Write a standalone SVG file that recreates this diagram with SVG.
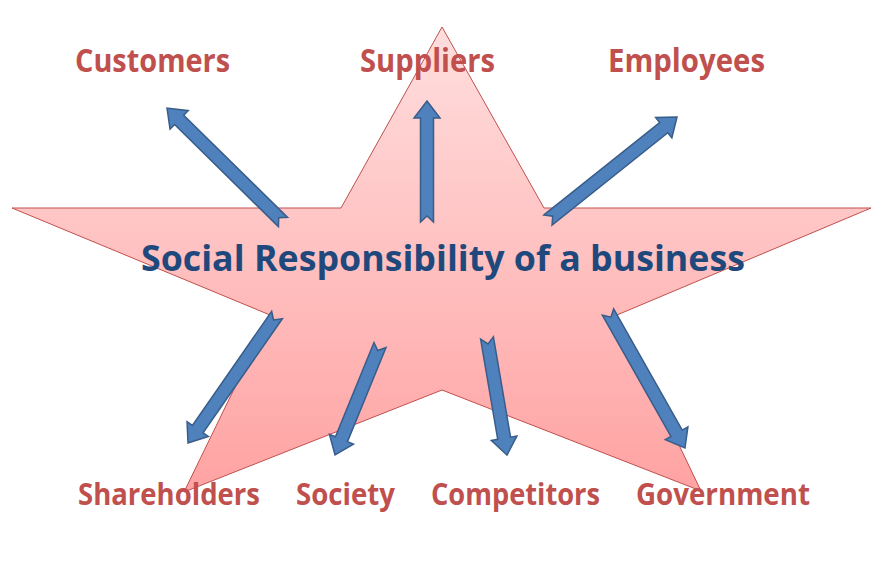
<svg xmlns="http://www.w3.org/2000/svg" width="883" height="563" viewBox="0 0 883 563">
  <defs>
    <linearGradient id="starGrad" gradientUnits="userSpaceOnUse" x1="0" y1="27" x2="0" y2="495">
      <stop offset="0" stop-color="#ffdede"/>
      <stop offset="1" stop-color="#ffa2a2"/>
    </linearGradient>
    <style>
      .label { font-family: "Open Sans", "Liberation Sans", sans-serif; font-weight: 700; fill: #c0504d; }
      .title { font-family: "Open Sans", "Liberation Sans", sans-serif; font-weight: 700; fill: #1f497d; }
      .arrow { fill: #4f81bd; stroke: #385d8a; stroke-width: 1.5; stroke-linejoin: miter; }
    </style>
  </defs>
  <rect width="883" height="563" fill="#ffffff"/>

  <g id="star">
    <polygon points="442,27 544,208 871,208 617,315 701,491 442,390 184,492 270,315 12,208 341,208" fill="url(#starGrad)" stroke="#c0504d" stroke-width="1"/>
    <text class="title" x="141" y="271" font-size="35" textLength="604" lengthAdjust="spacingAndGlyphs">Social Responsibility of a business</text>
  </g>

  <g id="connectors">
    <polygon class="arrow" transform="translate(283,222) rotate(224.5)" points="0,-6.5 145.6,-6.5 145.6,-13 162.6,0 145.6,13 145.6,6.5 0,6.5 6,0"/>
    <polygon class="arrow" transform="translate(427,222) rotate(-90)" points="0,-6.5 104,-6.5 104,-13 121,0 104,13 104,6.5 0,6.5 6,0"/>
    <polygon class="arrow" transform="translate(548,220) rotate(-38.6)" points="0,-6.5 148.1,-6.5 148.1,-13 165.1,0 148.1,13 148.1,6.5 0,6.5 6,0"/>
    <polygon class="arrow" transform="translate(277,315) rotate(124.8)" points="0,-6.5 138.9,-6.5 138.9,-13 155.9,0 138.9,13 138.9,6.5 0,6.5 6,0"/>
    <polygon class="arrow" transform="translate(380,345) rotate(112.25)" points="0,-6.5 101.8,-6.5 101.8,-13 118.8,0 101.8,13 101.8,6.5 0,6.5 6,0"/>
    <polygon class="arrow" transform="translate(487,338) rotate(80.3)" points="0,-6.5 101.7,-6.5 101.7,-13 118.7,0 101.7,13 101.7,6.5 0,6.5 6,0"/>
    <polygon class="arrow" transform="translate(608,312) rotate(60.5)" points="0,-6.5 139.3,-6.5 139.3,-13 156.3,0 139.3,13 139.3,6.5 0,6.5 6,0"/>
  </g>

  <g id="customers"><text class="label" x="75" y="72" font-size="33" textLength="155" lengthAdjust="spacingAndGlyphs">Customers</text></g>
  <g id="suppliers"><text class="label" x="360" y="72" font-size="33" textLength="135" lengthAdjust="spacingAndGlyphs">Suppliers</text></g>
  <g id="employees"><text class="label" x="608" y="72" font-size="33" textLength="157" lengthAdjust="spacingAndGlyphs">Employees</text></g>
  <g id="shareholders"><text class="label" x="78" y="505" font-size="30" textLength="182" lengthAdjust="spacingAndGlyphs">Shareholders</text></g>
  <g id="society"><text class="label" x="296" y="505" font-size="30" textLength="99" lengthAdjust="spacingAndGlyphs">Society</text></g>
  <g id="competitors"><text class="label" x="431" y="505" font-size="30" textLength="169" lengthAdjust="spacingAndGlyphs">Competitors</text></g>
  <g id="government"><text class="label" x="636" y="505" font-size="30" textLength="174" lengthAdjust="spacingAndGlyphs">Government</text></g>
</svg>
